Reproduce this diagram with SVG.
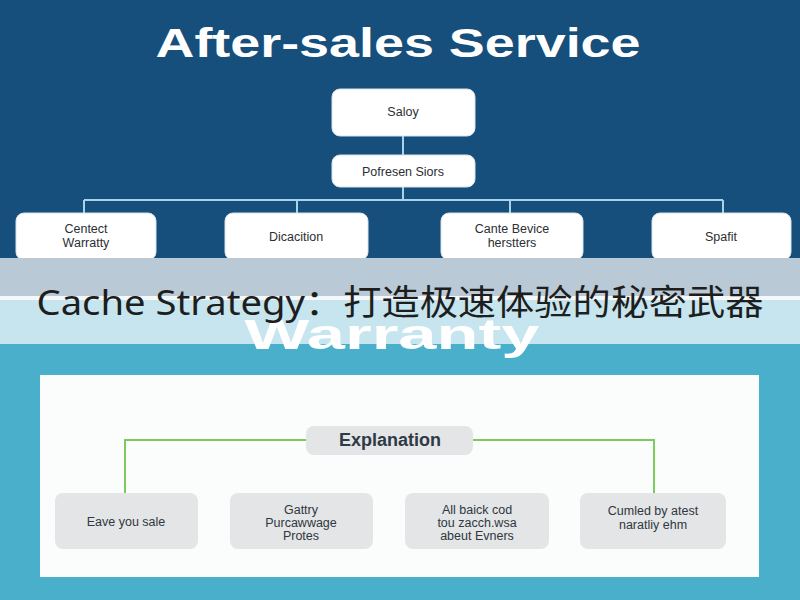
<svg xmlns="http://www.w3.org/2000/svg" width="800" height="600" viewBox="0 0 800 600">
<style>
.top{fill:#ffffff;stroke:#d6e4ee;stroke-width:1}
.bot{fill:#e4e5e6}
.t1{font-family:"Liberation Sans","DejaVu Sans",sans-serif;font-size:12.5px;fill:#2b2f33;text-anchor:middle}
.t2{font-family:"Liberation Sans","DejaVu Sans",sans-serif;font-size:12.5px;fill:#2f3740;text-anchor:middle}
.bl{fill:none;stroke:#a9d3ea;stroke-width:2}
.gl{fill:none;stroke:#7ccb5c;stroke-width:2}
</style>
<rect x="0" y="0" width="800" height="600" fill="#4aafcb"/>
<rect x="0" y="0" width="800" height="258" fill="#164e7c"/>
<text x="398" y="57" text-anchor="middle" font-family="Liberation Sans, Arial, sans-serif" font-weight="bold" font-size="40" fill="#ffffff" textLength="485" lengthAdjust="spacingAndGlyphs">After-sales Service</text>
<rect x="40" y="375" width="719" height="202" fill="#fbfcfc"/>
<g id="connectors">
<path class="bl" d="M403 136 V155 M403 187 V200 M84 200 H723 M84 200 V213 M297 200 V213 M510 200 V213 M723 200 V213"/>
<path class="gl" d="M306 440 H125 V493 M473 440 H654 V493"/>
</g>
<g id="n-saloy"><rect class="top" x="332" y="89" width="143" height="47" rx="8"/><text class="t1" x="403" y="116">Saloy</text></g>
<g id="n-pofresen"><rect class="top" x="332" y="155" width="143" height="32" rx="8"/><text class="t1" x="403" y="176">Pofresen Siors</text></g>
<g id="n-contect"><rect class="top" x="16" y="213" width="140" height="47" rx="8"/><text class="t1" x="86" y="233">Centect</text><text class="t1" x="86" y="247">Warratty</text></g>
<g id="n-dicacition"><rect class="top" x="225" y="213" width="143" height="47" rx="8"/><text class="t1" x="296" y="241">Dicacition</text></g>
<g id="n-cante"><rect class="top" x="441" y="213" width="142" height="47" rx="8"/><text class="t1" x="512" y="233">Cante Bevice</text><text class="t1" x="512" y="247">herstters</text></g>
<g id="n-spafit"><rect class="top" x="652" y="213" width="139" height="47" rx="8"/><text class="t1" x="721" y="241">Spafit</text></g>
<rect x="0" y="258" width="800" height="38" fill="#b9c9d5"/>
<rect x="0" y="296" width="800" height="4" fill="#f4f8fa"/>
<rect x="0" y="300" width="800" height="44" fill="#c6e5ee"/>
<text x="392" y="349" text-anchor="middle" font-family="Liberation Sans, Arial, sans-serif" font-weight="bold" font-size="42" fill="#ffffff" textLength="295" lengthAdjust="spacingAndGlyphs">Warranty</text>
<text x="400" y="315" text-anchor="middle" font-family="Noto Sans, Noto Sans CJK SC, sans-serif" font-size="35" fill="#1e1e1e" textLength="727" lengthAdjust="spacingAndGlyphs">Cache Strategy：打造极速体验的秘密武器</text>
<g id="n-explanation"><rect x="306" y="426" width="167" height="29" rx="8" fill="#e4e5e6"/><text x="390" y="446" text-anchor="middle" font-family="Liberation Sans, Arial, sans-serif" font-weight="bold" font-size="18" fill="#2e3a45">Explanation</text></g>
<g id="n-eave"><rect class="bot" x="55" y="493" width="143" height="56" rx="8"/><text class="t2" x="126" y="526">Eave you sale</text></g>
<g id="n-gattry"><rect class="bot" x="230" y="493" width="143" height="56" rx="8"/><text class="t2" x="301" y="514">Gattry</text><text class="t2" x="301" y="527">Purcawwage</text><text class="t2" x="301" y="540">Protes</text></g>
<g id="n-allbaick"><rect class="bot" x="405" y="493" width="144" height="56" rx="8"/><text class="t2" x="477" y="514">All baick cod</text><text class="t2" x="477" y="527">tou zacch.wsa</text><text class="t2" x="477" y="540">abeut Evners</text></g>
<g id="n-cumled"><rect class="bot" x="580" y="493" width="146" height="56" rx="8"/><text class="t2" x="653" y="515">Cumled by atest</text><text class="t2" x="653" y="529">naratliy ehm</text></g>
</svg>
